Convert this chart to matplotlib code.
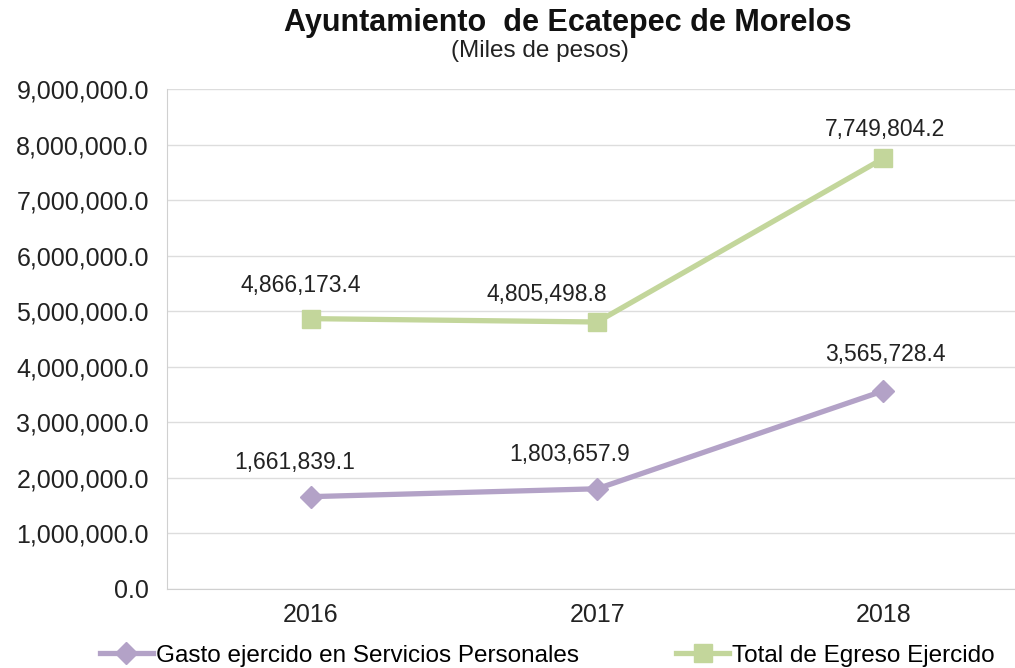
import matplotlib
matplotlib.use("Agg")
import matplotlib.pyplot as plt
from matplotlib.ticker import FuncFormatter, MultipleLocator

years = ["2016", "2017", "2018"]
gasto = [1661839.1, 1803657.9, 3565728.4]
total = [4866173.4, 4805498.8, 7749804.2]
label_gasto = "Gasto ejercido en Servicios Personales"
label_total = "Total de Egreso Ejercido"
title = "Ayuntamiento  de Ecatepec de Morelos"
subtitle = "(Miles de pesos)"

# label offsets in pixels (style only)
off_gasto = [(-16, 34), (-28, 34), (2, 36)]
off_total = [(-10, 33), (-50, 28), (2, 29)]

plt.rcParams['font.family'] = ['Liberation Sans', 'DejaVu Sans']

fig = plt.figure(figsize=(10.15, 6.68), dpi=100)
ax = fig.add_axes([0.1645, 0.1183, 0.8355, 0.7485])

x = list(range(len(years)))
purple = "#b3a2c7"
green = "#c3d69b"
ax.plot(x, gasto, color=purple, lw=3.8, marker="D", ms=11, label=label_gasto, zorder=3)
ax.plot(x, total, color=green, lw=3.8, marker="s", ms=13, label=label_total, zorder=3)

for xi, v, o in zip(x, gasto, off_gasto):
    ax.annotate(f"{v:,.1f}", (xi, v), xytext=o, textcoords="offset pixels",
                ha="center", va="center", fontsize=16.5, color="#222222")
for xi, v, o in zip(x, total, off_total):
    ax.annotate(f"{v:,.1f}", (xi, v), xytext=o, textcoords="offset pixels",
                ha="center", va="center", fontsize=16.5, color="#222222")

ax.set_xlim(-0.503, 2.46)
ax.set_ylim(0, 9000000)
ax.yaxis.set_major_locator(MultipleLocator(1000000))
ax.yaxis.set_major_formatter(FuncFormatter(lambda v, p: f"{v:,.1f}"))
ax.set_xticks(x)
ax.set_xticklabels(years, fontsize=18, color="#222222")
ax.tick_params(axis="y", labelsize=18, labelcolor="#222222", length=0, pad=13)
ax.tick_params(axis="x", length=0, pad=10)
ax.grid(axis="y", color="#dddddd", lw=1)
ax.set_axisbelow(True)
for s in ["top", "right"]:
    ax.spines[s].set_visible(False)
for s in ["left", "bottom"]:
    ax.spines[s].set_color("#d0d0d0")

fig.text(0.559, 0.966, title, ha="center", va="center", fontsize=22, fontweight="bold", color="#111111")
fig.text(0.532, 0.923, subtitle, ha="center", va="center", fontsize=17.5, color="#222222")

fig.legend(loc="center", bbox_to_anchor=(0.539, 0.018), ncol=2, frameon=False, fontsize=17.5,
           handlelength=2.2, columnspacing=4.0, handletextpad=0.1, borderaxespad=0)

fig.savefig("out.png", dpi=100)
